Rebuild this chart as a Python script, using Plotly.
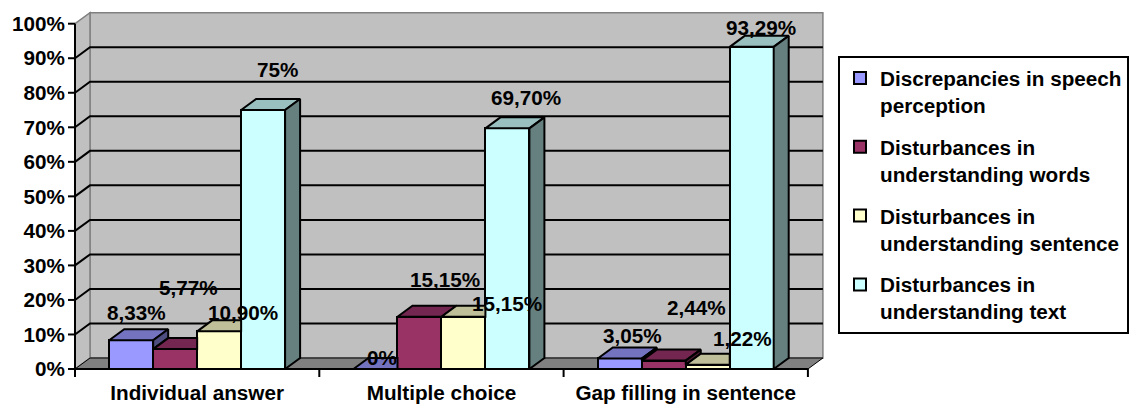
import plotly.graph_objects as go

# ---------------- data ----------------
categories = ["Individual answer", "Multiple choice", "Gap filling in sentence"]
series_names = [
    "Discrepancies in speech<br>perception",
    "Disturbances in<br>understanding words",
    "Disturbances in<br>understanding sentence",
    "Disturbances in<br>understanding text",
]
speech_perception = [8.33, 0.0, 3.05]
understanding_words = [5.77, 15.15, 2.44]
understanding_sentence = [10.90, 15.15, 1.22]
understanding_text = [75.0, 69.70, 93.29]
y_ticks = [0, 10, 20, 30, 40, 50, 60, 70, 80, 90, 100]
y_tick_labels = [f"{t}%" for t in y_ticks]

series_values = [speech_perception, understanding_words,
                 understanding_sentence, understanding_text]

# ---------------- styles ----------------
front_colors = ["#9999FF", "#993366", "#FFFFCC", "#CCFFFF"]
top_colors = ["#7373BF", "#732650", "#BFBF99", "#99BFBF"]
side_colors = ["#4D4D80", "#4D1A33", "#808066", "#668080"]

# label placement offsets (category units, percent units) per category/series
label_dx = [[0.020, 0.053, 0.098, 0.057],
            [0.025, 0.103, 0.177, 0.075],
            [0.053, 0.135, 0.141, 0.037]]
label_dy = [[8.0, 17.8, 5.5, 11.6],
            [3.3, 10.8, 3.8, 8.9],
            [6.6, 15.5, 7.5, 5.5]]

FONT = "Liberation Sans, Arial, sans-serif"
FS = 20.7
W, H = 1131, 405
ML, MR, MT, MB = 66, 304, 11, 27
X0_PX, Y0_PX = 75, 369       # pixel of x=-0.5 and y=0
SX, SY = 244.3, 3.453        # px per category unit, px per percent
BAR_W = 0.18
DX = 15 / SX                 # 3-D depth, x
DY = 11 / SY                 # 3-D depth, y

xr = [-0.5 - (X0_PX - ML) / SX, -0.5 + (W - MR - X0_PX) / SX]
yr = [-(H - MB - Y0_PX) / SY, (Y0_PX - MT) / SY]

fig = go.Figure()

# front faces as bars
for i, vals in enumerate(series_values):
    xs = [c + (i - 1.5) * BAR_W for c in range(len(categories))]
    fig.add_trace(go.Bar(
        x=xs, y=vals, width=BAR_W, name=series_names[i],
        marker=dict(color=front_colors[i], line=dict(color="black", width=2)),
        legendgroup=str(i), hoverinfo="skip"))

# top and side faces
n = len(series_values)
for i, vals in enumerate(series_values):
    tx, ty, sx_, sy_ = [], [], [], []
    for c in range(len(categories)):
        v = vals[c]
        x0 = c + (i - 1.5) * BAR_W - BAR_W / 2
        x1 = x0 + BAR_W
        vn = series_values[i + 1][c] if i < n - 1 else None
        # top face
        if vn is not None and vn > v:
            tx += [x0, x1, x1, x0 + DX, x0, None]
            ty += [v, v, v + DY, v + DY, v, None]
        else:
            tx += [x0, x1, x1 + DX, x0 + DX, x0, None]
            ty += [v, v, v + DY, v + DY, v, None]
        # side face
        base = 0 if vn is None else vn
        if vn is None or v > vn:
            sx_ += [x1, x1 + DX, x1 + DX, x1, x1, None]
            sy_ += [base, base + DY, v + DY, v, base, None]
    fig.add_trace(go.Scatter(x=tx, y=ty, mode="lines", fill="toself",
                             fillcolor=top_colors[i],
                             line=dict(color="black", width=2),
                             showlegend=False, hoverinfo="skip"))
    if sx_:
        fig.add_trace(go.Scatter(x=sx_, y=sy_, mode="lines", fill="toself",
                                 fillcolor=side_colors[i],
                                 line=dict(color="black", width=2),
                                 showlegend=False, hoverinfo="skip"))

# ---------------- walls, floor, grid, axes ----------------
L, R = -0.5, len(categories) - 0.5
top = y_ticks[-1]
shapes = []
shapes.append(dict(type="rect", xref="x", yref="y", x0=L + DX, x1=R + DX,
                   y0=DY, y1=top + DY, fillcolor="#C0C0C0",
                   line=dict(color="#808080", width=1.5), layer="below"))
shapes.append(dict(type="path", xref="x", yref="y",
                   path=f"M{L},0 L{L+DX},{DY} L{L+DX},{top+DY} L{L},{top} Z",
                   fillcolor="#C0C0C0", line=dict(color="#808080", width=1.5),
                   layer="below"))
for k in y_ticks[1:-1]:
    shapes.append(dict(type="path", xref="x", yref="y",
                       path=f"M{L},{k} L{L+DX},{k+DY} L{R+DX},{k+DY}",
                       line=dict(color="black", width=2), layer="below"))
shapes.append(dict(type="path", xref="x", yref="y",
                   path=f"M{L},0 L{R},0 L{R+DX},{DY} L{L+DX},{DY} Z",
                   fillcolor="#808080", line=dict(color="black", width=1),
                   layer="below"))
# axis lines
shapes.append(dict(type="line", xref="x", yref="y", x0=L, x1=L, y0=0, y1=top,
                   line=dict(color="black", width=2), layer="above"))
shapes.append(dict(type="line", xref="x", yref="y", x0=L, x1=R, y0=0, y1=0,
                   line=dict(color="black", width=2), layer="above"))
for k in y_ticks:
    shapes.append(dict(type="line", xref="x", yref="y", x0=L - 7 / SX, x1=L,
                       y0=k, y1=k, line=dict(color="black", width=2),
                       layer="above"))
for c in range(len(categories) + 1):
    b = c - 0.5
    shapes.append(dict(type="line", xref="x", yref="y", x0=b, x1=b,
                       y0=0, y1=-8 / SY, line=dict(color="black", width=2),
                       layer="above"))

# ---------------- value labels ----------------
def fmt(v):
    if abs(v - round(v)) < 1e-9:
        return f"{int(round(v))}%"
    return f"{v:.2f}".replace(".", ",") + "%"

annotations = []
for i, vals in enumerate(series_values):
    for c, v in enumerate(vals):
        xc = c + (i - 1.5) * BAR_W
        annotations.append(dict(
            x=xc + label_dx[c][i], y=v + label_dy[c][i], xref="x", yref="y",
            text=fmt(v), showarrow=False, xanchor="center", yanchor="middle",
            font=dict(family=FONT, size=FS, color="black", weight="bold")))

fig.update_layout(
    width=W, height=H,
    margin=dict(l=ML, r=MR, t=MT, b=MB, pad=0, autoexpand=False),
    paper_bgcolor="white", plot_bgcolor="white",
    barmode="overlay", bargap=0,
    shapes=shapes, annotations=annotations,
    font=dict(family=FONT, size=FS, color="black", weight="bold"),
    xaxis=dict(range=xr, tickvals=list(range(len(categories))),
               ticktext=categories, ticks="", showgrid=False,
               zeroline=False, showline=False, fixedrange=True,
               automargin=False, ticklabelstandoff=0,
               tickfont=dict(family=FONT, size=FS, color="black", weight="bold")),
    yaxis=dict(range=yr, tickvals=y_ticks, ticktext=y_tick_labels, ticks="",
               showgrid=False, zeroline=False, showline=False, fixedrange=True,
               automargin=False,
               tickfont=dict(family=FONT, size=FS, color="black", weight="bold")),
    legend=dict(x=(838 - ML) / (W - ML - MR), y=(H - MB - 56) / (H - MT - MB),
                xanchor="left", yanchor="top", bordercolor="black",
                borderwidth=2, bgcolor="white", valign="top",
                tracegroupgap=12, traceorder="grouped",
                font=dict(family=FONT, size=FS, color="black", weight="bold")),
    showlegend=True,
)

fig.write_html("out.html")
